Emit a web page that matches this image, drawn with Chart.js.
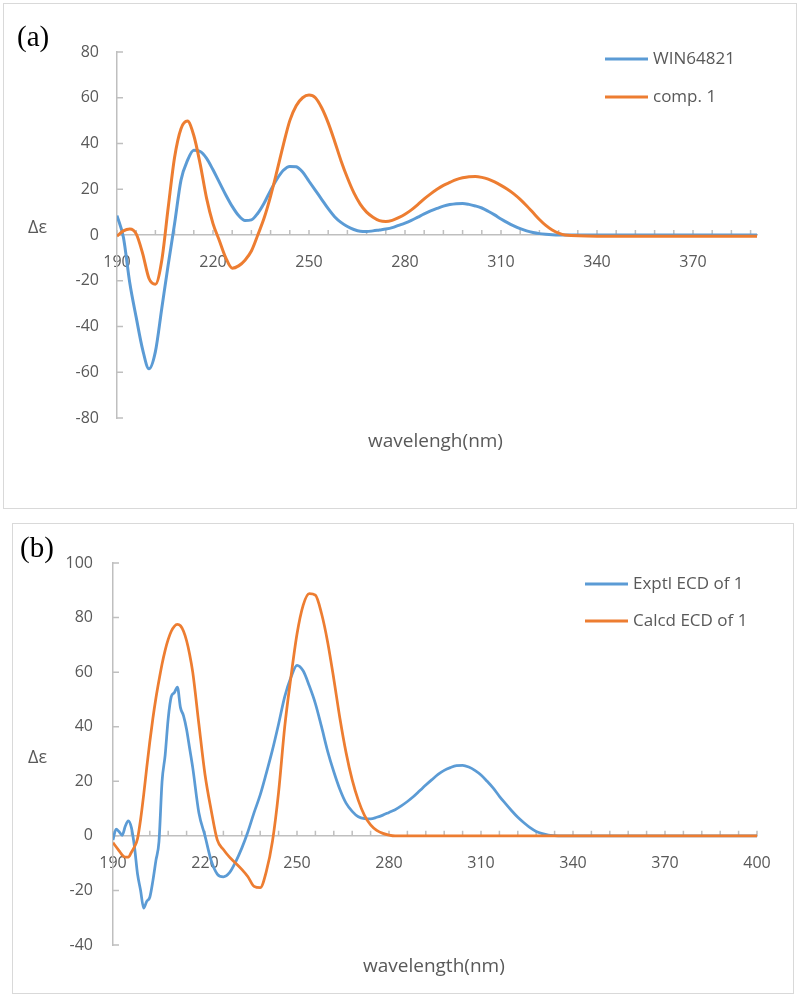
<!DOCTYPE html>
<html>
<head>
<meta charset="utf-8">
<script src="https://cdn.jsdelivr.net/npm/chart.js@4.4.1/dist/chart.umd.min.js"></script>
<style>
  body { margin: 0; background: #fff; width: 800px; height: 998px; position: relative; overflow: hidden; }
  .frame { position: absolute; border: 1.5px solid #d9d9d9; box-sizing: border-box; }
  canvas { position: absolute; left: 0; }
</style>
</head>
<body>
<div class="frame" style="left:3px;top:3px;width:794px;height:506px"></div>
<div class="frame" style="left:12px;top:523px;width:782px;height:471px"></div>
<canvas id="chartA" width="800" height="515" style="top:0"></canvas>
<canvas id="chartB" width="800" height="483" style="top:515px"></canvas>
<script>
// ---- panel (a) data ----
const wavelengthA = [
  190,192,194,196,198,200,202,204,206,208,
  210,212,214,216,218,220,222,224,226,228,
  230,232,234,236,238,240,242,244,246,248,
  250,252,254,256,258,260,262,264,266,268,
  270,272,274,276,278,280,282,284,286,288,
  290,292,294,296,298,300,302,304,306,308,
  310,312,314,316,318,320,322,324,326,328,
  330,340,350,360,370,380,390
];
const win64821 = [
  8.5,-1,-21,-36,-50,-58.5,-51,-32,-13,5,
  24,32.5,37,36.5,33.5,28.5,23,17.5,12.5,8.5,
  6.3,6.6,9.5,14,19.5,24.5,28.3,30,29.8,27.5,
  23.5,19.5,15.5,11.5,8,5.5,3.7,2.4,1.6,1.5,
  1.8,2.2,2.6,3.2,4.2,5.2,6.4,7.8,9.2,10.5,
  11.6,12.6,13.3,13.7,13.8,13.4,12.7,11.8,10.4,8.8,
  7,5.4,4,2.8,1.8,1.1,0.6,0.3,0.1,0,
  0,0,0,0,0,0,0
];
const comp1 = [
  -0.5,1.8,2.6,0.5,-8,-19,-21.5,-11,12,34,
  46.5,49.8,43.5,31,16,5,-2.5,-10,-14.5,-13.5,
  -11,-7,0,7.5,17,28,39.5,50,56.5,60,
  61.2,60,55.5,49,41,32.5,25,18.5,13.5,10,
  7.8,6.3,5.9,6.4,7.6,9.1,11,13.3,15.8,18,
  20,21.7,23,24.2,25,25.5,25.6,25.2,24.4,23.2,
  21.7,20,18,15.6,12.8,9.8,6.8,4.2,2.2,0.8,
  0,-0.5,-0.5,-0.5,-0.5,-0.5,-0.5
];
const xLabelsA = [190,220,250,280,310,340,370];
const yLabelsA = [-80,-60,-40,-20,0,20,40,60,80];

// ---- panel (b) data ----
const wavelengthB = [
  190,191,192,193,194,195,196,197,198,199,
  200,201,202,203,204,205,206,207,208,209,
  210,211,212,213,214,215,216,218,220,222,
  224,226,228,230,232,234,236,238,240,242,
  244,246,248,250,252,254,256,258,260,262,
  264,266,268,270,272,274,276,278,280,282,
  284,286,288,290,292,294,296,298,300,302,
  304,306,308,310,312,314,316,318,320,322,
  324,326,328,330,332,334,336,338,340,350,
  360,370,380,390,400
];
const exptl = [
  -1.5,2.5,1.5,0.2,3.5,5.5,3,-4,-14,-20,
  -26.5,-24,-22.5,-16.5,-9,-2,20,29.5,43,51,
  52.5,54.5,47,44,39,32,25,8.5,0,-9,
  -14,-15,-13.5,-9.5,-4.5,1.5,8.5,15,23,31.5,
  41,51,58,62.5,60.5,55,48.5,40,31,23.5,
  17,12,9,7,6.3,6.2,6.8,7.6,8.6,9.6,
  11,12.6,14.4,16.5,18.6,20.6,22.5,24,25,25.7,
  25.8,25.2,24,22.3,20,17.5,14.5,11.8,9.2,6.8,
  4.8,3,1.6,0.8,0.3,0.1,0,0,0,0,
  0,0,0,0,0
];
const calcd = [
  -2.5,-4,-5.5,-7,-7.8,-7.8,-6,-4,-1,6,
  15,25,34.5,43,50.5,57,63,68,72,75,
  76.8,77.5,77,75,71.5,66.5,60,41,22.5,9.5,
  -1.5,-5,-7.8,-10,-12.3,-15,-18.5,-19,-13,-2,
  16,40,58,74,84.5,88.8,88.2,81.5,71,57.5,
  43,30.5,20.5,13,7.5,4,2,0.9,0.3,0,
  0,0,0,0,0,0,0,0,0,0,
  0,0,0,0,0,0,0,0,0,0,
  0,0,0,0,0,0,0,0,0,0,
  0,0,0,0,0
];
const xLabelsB = [190,220,250,280,310,340,370,400];
const yLabelsB = [-40,-20,0,20,40,60,80,100];

const BLUE = '#5B9BD5';
const ORANGE = '#ED7D31';
const AXIS = '#bfbfbf';
const TEXT = '#595959';

// tick marks, panel letter, axis titles and legend
const decor = {
  id: 'decor',
  beforeDatasetsDraw(chart, args, o) {
    const ctx = chart.ctx;
    const x = chart.scales.x, y = chart.scales.y;
    const y0 = y.getPixelForValue(0);
    ctx.save();
    ctx.strokeStyle = AXIS;
    ctx.lineWidth = 1.5;
    ctx.beginPath();
    y.ticks.forEach(t => {
      const py = y.getPixelForValue(t.value);
      ctx.moveTo(x.left, py);
      ctx.lineTo(x.left + 6, py);
    });
    for (let v = x.min; v <= x.max + 0.001; v += o.minorStep) {
      const px = x.getPixelForValue(v);
      ctx.moveTo(px, y0);
      ctx.lineTo(px, y0 - 5);
    }
    ctx.stroke();
    ctx.restore();
  },
  afterDraw(chart, args, o) {
    const ctx = chart.ctx;
    ctx.save();
    ctx.textBaseline = 'middle';
    ctx.textAlign = 'left';
    ctx.fillStyle = '#000';
    ctx.font = '29px "Liberation Serif"';
    ctx.fillText(o.panel, o.panelX, o.panelY);
    ctx.fillStyle = TEXT;
    ctx.font = '18px "Open Sans"';
    ctx.fillText('Δε', o.yTitleX, o.yTitleY);
    ctx.font = '19px "Open Sans"';
    ctx.fillText(o.xTitle, o.xTitleX, o.xTitleY);
    ctx.font = '17px "Open Sans"';
    chart.data.datasets.forEach((ds, i) => {
      const ly = o.legendY + i * o.legendGap;
      ctx.strokeStyle = ds.borderColor;
      ctx.lineWidth = 3;
      ctx.beginPath();
      ctx.moveTo(o.legendX, ly);
      ctx.lineTo(o.legendX + 43, ly);
      ctx.stroke();
      ctx.fillText(ds.label, o.legendX + 48, ly);
    });
    ctx.restore();
  }
};

function makeChart(id, wl, series, xMin, xMax, xLabels, yMin, yMax, yLabels, geo, deco) {
  const datasets = series.map(s => ({
    label: s.label,
    data: wl.map((w, i) => ({ x: w, y: s.values[i] })),
    borderColor: s.color,
    backgroundColor: s.color,
    borderWidth: geo.lineWidth,
    pointRadius: 0,
    cubicInterpolationMode: 'monotone',
    order: s.order
  }));
  return new Chart(document.getElementById(id), {
    type: 'line',
    data: { datasets },
    plugins: [decor],
    options: {
      responsive: false,
      animation: false,
      devicePixelRatio: 1,
      layout: { padding: { left: 0, right: geo.padRight, top: geo.padTop, bottom: geo.padBottom } },
      plugins: { legend: { display: false }, tooltip: { enabled: false }, decor: deco },
      scales: {
        x: {
          type: 'linear',
          min: xMin, max: xMax,
          position: { y: 0 },
          afterBuildTicks: s => { s.ticks = xLabels.map(v => ({ value: v })); },
          grid: { display: true, drawOnChartArea: false, drawTicks: false },
          border: { color: AXIS, width: 1.5 },
          ticks: { color: TEXT, font: { family: 'Open Sans', size: 16 }, padding: geo.xPad, maxRotation: 0, autoSkip: false }
        },
        y: {
          min: yMin, max: yMax,
          afterBuildTicks: s => { s.ticks = yLabels.map(v => ({ value: v })); },
          afterFit: s => { s.width = geo.yWidth; },
          grid: { display: true, drawOnChartArea: false, drawTicks: false },
          border: { color: AXIS, width: 1.5 },
          ticks: { color: TEXT, font: { family: 'Open Sans', size: 16 }, padding: geo.yPad }
        }
      }
    }
  });
}

makeChart('chartA', wavelengthA, [
  { label: 'WIN64821', values: win64821, color: BLUE, order: 1 },
  { label: 'comp. 1', values: comp1, color: ORANGE, order: 0 }
], 190, 390, xLabelsA, -80, 80, yLabelsA,
  { lineWidth: 3, padRight: 43, padTop: 52, padBottom: 97, yWidth: 117, xPad: 18, yPad: 18 },
  { minorStep: 6, panel: '(a)', panelX: 17, panelY: 38, yTitleX: 28, yTitleY: 228,
    xTitle: 'wavelengh(nm)', xTitleX: 368, xTitleY: 442, legendX: 605, legendY: 59, legendGap: 38 });

makeChart('chartB', wavelengthB, [
  { label: 'Exptl ECD of 1', values: exptl, color: BLUE, order: 1 },
  { label: 'Calcd ECD of 1', values: calcd, color: ORANGE, order: 0 }
], 190, 400, xLabelsB, -40, 100, yLabelsB,
  { lineWidth: 2.75, padRight: 43, padTop: 48, padBottom: 53, yWidth: 113, xPad: 18, yPad: 20 },
  { minorStep: 6, panel: '(b)', panelX: 20, panelY: 34, yTitleX: 28, yTitleY: 243,
    xTitle: 'wavelength(nm)', xTitleX: 363, xTitleY: 452, legendX: 585, legendY: 69, legendGap: 37 });
</script>
</body>
</html>
